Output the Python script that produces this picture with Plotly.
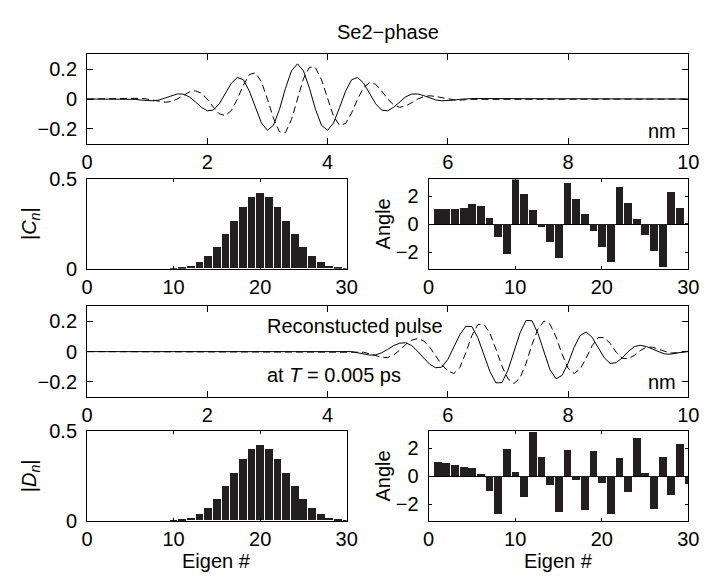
import plotly.graph_objects as go

# ---------------- data ----------------
top_x = [0.0, 0.7, 0.8, 0.9, 1.0, 1.1, 1.2, 1.3, 1.4, 1.5, 1.6, 1.7, 1.8, 1.9, 2.0,
         2.1, 2.2, 2.3, 2.4, 2.5, 2.6, 2.7, 2.8, 2.9, 3.0, 3.1, 3.2, 3.3, 3.4, 3.5,
         3.6, 3.7, 3.8, 3.9, 4.0, 4.1, 4.2, 4.3, 4.4, 4.5, 4.6, 4.7, 4.8, 4.9, 5.0,
         5.1, 5.2, 5.3, 5.4, 5.5, 5.6, 5.7, 5.8, 5.9, 6.0, 6.1, 6.2, 6.3, 6.4, 10.0]
top_solid = [0.0, 0.002, -0.002, -0.007, -0.0115, -0.012, -0.006, 0.007, 0.023, 0.034,
             0.033, 0.015, -0.018, -0.055, -0.079, -0.074, -0.032, 0.036, 0.106, 0.145,
             0.129, 0.053, -0.057, -0.160, -0.210, -0.176, -0.070, 0.071, 0.189, 0.236,
             0.189, 0.071, -0.070, -0.176, -0.210, -0.160, -0.057, 0.053, 0.129, 0.145,
             0.106, 0.036, -0.032, -0.074, -0.079, -0.055, -0.018, 0.015, 0.033, 0.034,
             0.023, 0.007, -0.006, -0.012, -0.0115, -0.007, -0.002, 0.002, 0.003, 0.0]
top_dashed = [0.0, 0.005, 0.007, 0.005, 0.0, -0.009, -0.017, -0.022, -0.016, 0.0,
              0.024, 0.047, 0.055, 0.040, 0.0, -0.054, -0.099, -0.111, -0.077, 0.0,
              0.093, 0.164, 0.176, 0.116, 0.0, -0.128, -0.220, -0.225, -0.138, 0.0,
              0.138, 0.214, 0.210, 0.128, 0.0, -0.116, -0.176, -0.164, -0.093, 0.0,
              0.077, 0.111, 0.099, 0.054, 0.0, -0.040, -0.055, -0.047, -0.024, 0.0,
              0.016, 0.022, 0.017, 0.009, 0.0, -0.005, -0.007, -0.005, -0.002, 0.0]

rec_x = [0.0, 4.0, 4.1, 4.2, 4.3, 4.4, 4.5, 4.6, 4.7, 4.8, 4.9, 5.0, 5.1, 5.2, 5.3,
         5.4, 5.5, 5.6, 5.7, 5.8, 5.9, 6.0, 6.1, 6.2, 6.3, 6.4, 6.5, 6.6, 6.7, 6.8,
         6.9, 7.0, 7.1, 7.2, 7.3, 7.4, 7.5, 7.6, 7.7, 7.8, 7.9, 8.0, 8.1, 8.2, 8.3,
         8.4, 8.5, 8.6, 8.7, 8.8, 8.9, 9.0, 9.1, 9.2, 9.3, 9.4, 9.5, 9.6, 9.7, 9.8,
         9.9, 10.0]
rec_solid = [0.0, 0.002, 0.003, 0.003, 0.003, 0.000, -0.008, -0.017, -0.023, -0.022,
             -0.008, 0.015, 0.040, 0.056, 0.059, 0.040, 0.002, -0.043, -0.084, -0.107,
             -0.103, -0.052, 0.030, 0.112, 0.168, 0.166, 0.092, -0.020, -0.132, -0.207,
             -0.206, -0.123, 0.000, 0.123, 0.206, 0.205, 0.120, -0.005, -0.121, -0.180,
             -0.158, -0.077, 0.027, 0.107, 0.130, 0.095, 0.029, -0.040, -0.079, -0.073,
             -0.042, 0.000, 0.033, 0.042, 0.034, 0.017, -0.002, -0.015, -0.017, -0.011,
             -0.001, 0.003]
rec_dashed = [0.0, 0.0, 0.0, 0.0, 0.0, 0.0, 0.0, -0.004, -0.015, -0.028,
              -0.038, -0.039, -0.022, 0.010, 0.048, 0.076, 0.087, 0.071, 0.029, -0.029,
              -0.087, -0.129, -0.145, -0.106, -0.007, 0.106, 0.180, 0.182, 0.121, 0.017,
              -0.095, -0.180, -0.212, -0.175, -0.079, 0.047, 0.151, 0.203, 0.182, 0.097,
              -0.016, -0.110, -0.145, -0.116, -0.044, 0.039, 0.093, 0.094, 0.054, -0.004,
              -0.044, -0.047, -0.025, 0.007, 0.029, 0.030, 0.017, 0.000, -0.010, -0.007,
              -0.003, 0.0]

eigen_n = [1, 2, 3, 4, 5, 6, 7, 8, 9, 10, 11, 12, 13, 14, 15,
           16, 17, 18, 19, 20, 21, 22, 23, 24, 25, 26, 27, 28, 29, 30]
c_mag = [0, 0, 0, 0, 0, 0, 0, 0, 0, 0.002, 0.005, 0.016, 0.035, 0.070, 0.121,
         0.190, 0.268, 0.343, 0.400, 0.420, 0.400, 0.343, 0.268, 0.190, 0.121,
         0.070, 0.035, 0.016, 0.006, 0.002]
c_angle = [1.08, 1.08, 1.08, 1.15, 1.38, 1.25, 0.42, -0.92, -2.15, 3.2,
           2.1, 1.0, -0.2, -1.32, -2.45, 2.9, 1.78, 0.67, -0.53, -1.64,
           -2.77, 2.6, 1.48, 0.37, -0.83, -1.96, -3.07, 2.28, 1.15, 0.03]
d_mag = [0, 0, 0, 0, 0, 0, 0, 0, 0, 0.002, 0.005, 0.016, 0.035, 0.070, 0.121,
         0.190, 0.268, 0.343, 0.400, 0.422, 0.400, 0.343, 0.268, 0.190, 0.121,
         0.070, 0.035, 0.016, 0.006, 0.002]
d_angle = [1.0, 0.91, 0.77, 0.66, 0.57, 0.14, -1.09, -2.77, 1.93, 0.27,
           -1.5, 3.1, 1.32, -0.64, -2.57, 1.82, -0.3, -2.43, 1.8, -0.5,
           -2.77, 1.3, -1.18, 2.73, 0.23, -2.41, 1.36, -1.36, 2.27, -0.57]

wave_xticks = [0, 2, 4, 6, 8, 10]
wave_yticks = [-0.2, 0, 0.2]
eig_xticks = [0, 10, 20, 30]
mag_yticks = [0, 0.5]
ang_yticks = [-2, 0, 2]

# ---------------- layout helpers ----------------
W, H = 713, 582
FONT = "Liberation Sans, Arial, Helvetica, sans-serif"
FS = 20


def xd(a, b):
    return [a / W, b / W]


def yd(top, bottom):
    return [1 - bottom / H, 1 - top / H]


def axis(domain, rng, ticks, anchor, ticklen, standoff, zeroline=False):
    return dict(domain=domain, range=rng, tickvals=ticks, anchor=anchor,
                showline=True, linecolor="black", linewidth=1, mirror="ticks",
                ticks="inside", ticklen=ticklen, tickwidth=1, tickcolor="black",
                showgrid=False, zeroline=zeroline, zerolinecolor="black",
                zerolinewidth=1, ticklabelstandoff=standoff,
                tickfont=dict(family=FONT, size=FS, color="black"))


fig = go.Figure()
line_solid = dict(color="black", width=1)
line_dash = dict(color="black", width=1, dash="7px,4px")
bar_color = "#231f20"

fig.add_trace(go.Scatter(x=top_x, y=top_solid, mode="lines", line=line_solid,
                         xaxis="x", yaxis="y"))
fig.add_trace(go.Scatter(x=top_x, y=top_dashed, mode="lines", line=line_dash,
                         xaxis="x", yaxis="y"))
fig.add_trace(go.Bar(x=eigen_n, y=c_mag, width=0.9, marker_color=bar_color,
                     marker_line_width=0, xaxis="x2", yaxis="y2"))
fig.add_trace(go.Bar(x=eigen_n, y=c_angle, width=0.9, marker_color=bar_color,
                     marker_line_width=0, xaxis="x3", yaxis="y3"))
fig.add_trace(go.Scatter(x=rec_x, y=rec_solid, mode="lines", line=line_solid,
                         xaxis="x4", yaxis="y4"))
fig.add_trace(go.Scatter(x=rec_x, y=rec_dashed, mode="lines", line=line_dash,
                         xaxis="x4", yaxis="y4"))
fig.add_trace(go.Bar(x=eigen_n, y=d_mag, width=0.9, marker_color=bar_color,
                     marker_line_width=0, xaxis="x5", yaxis="y5"))
fig.add_trace(go.Bar(x=eigen_n, y=d_angle, width=0.9, marker_color=bar_color,
                     marker_line_width=0, xaxis="x6", yaxis="y6"))

L1, R1 = 83, 699
L2, R2 = 83, 349
L3, R3 = 433, 699
XS, YS = 0, 5

fig.update_layout(
    width=W, height=H, margin=dict(l=0, r=0, t=0, b=0),
    paper_bgcolor="white", plot_bgcolor="white", showlegend=False,
    bargap=0,
    xaxis=axis(xd(L1, R1), [0, 10], wave_xticks, "y", 6, XS),
    yaxis=axis(yd(45, 138), [-0.3, 0.3], wave_yticks, "x", 6, YS),
    xaxis2=axis(xd(L2, R2), [0, 30], eig_xticks, "y2", 3, XS),
    yaxis2=axis(yd(175, 268), [0, 0.5], mag_yticks, "x2", 3, YS),
    xaxis3=axis(xd(L3, R3), [0, 30], eig_xticks, "y3", 3, XS),
    yaxis3=axis(yd(175, 268), [-3.2, 3.2], ang_yticks, "x3", 3, YS, zeroline=True),
    xaxis4=axis(xd(L1, R1), [0, 10], wave_xticks, "y4", 6, XS),
    yaxis4=axis(yd(307, 401), [-0.3, 0.3], wave_yticks, "x4", 6, YS),
    xaxis5=axis(xd(L2, R2), [0, 30], eig_xticks, "y5", 3, XS),
    yaxis5=axis(yd(437, 530), [0, 0.5], mag_yticks, "x5", 3, YS),
    xaxis6=axis(xd(L3, R3), [0, 30], eig_xticks, "y6", 3, XS),
    yaxis6=axis(yd(437, 530), [-3.2, 3.2], ang_yticks, "x6", 3, YS, zeroline=True),
)


def ann(text, x, y, xanchor="center", yanchor="middle", angle=0):
    fig.add_annotation(text=text, x=x / W, y=1 - y / H, xref="paper", yref="paper",
                       xanchor=xanchor, yanchor=yanchor, showarrow=False,
                       textangle=angle, font=dict(family=FONT, size=FS, color="black"))


ann("Se2\u2212phase", 391, 22)
ann("nm", 688, 125, xanchor="right")
ann("nm", 688, 386, xanchor="right")
ann("Reconstucted pulse", 265, 327, xanchor="left")
ann("at <i>T</i> = 0.005 ps", 265, 378, xanchor="left")
ann("|<i>C<sub>n</sub></i>|", 25, 221, angle=-90)
ann("Angle", 386, 221, angle=-90)
ann("|<i>D<sub>n</sub></i>|", 25, 483, angle=-90)
ann("Angle", 386, 483, angle=-90)
ann("Eigen #", 216, 572)
ann("Eigen #", 566, 572)

fig.write_html("out.html")
